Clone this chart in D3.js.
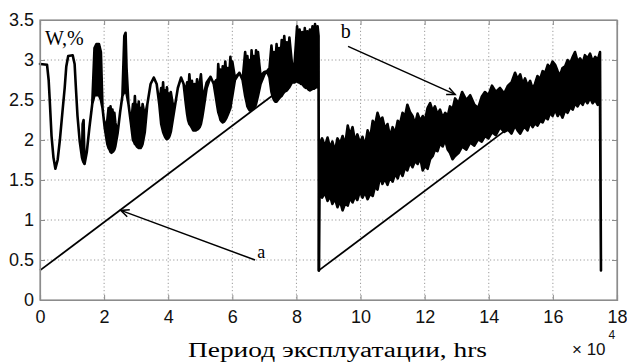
<!DOCTYPE html>
<html>
<head>
<meta charset="utf-8">
<script src="https://cdn.jsdelivr.net/npm/d3@7"></script>
<style>
  body { margin: 0; background: #fff; }
  svg { display: block; }
</style>
</head>
<body>
<div id="chart"></div>
<script>
// hours in units of 10^4, W in %
const xTicks = [0, 2, 4, 6, 8, 10, 12, 14, 16, 18];
const yTicks = [0, 0.5, 1, 1.5, 2, 2.5, 3, 3.5];

// first service period: [hrs, W lower edge, W upper edge]
const cycle1 = [
  [0.00, 2.95, 2.95], [0.22, 2.94, 2.94], [0.27, 2.75, 2.75], [0.31, 2.45, 2.45],
  [0.36, 2.05, 2.05], [0.42, 1.78, 1.78], [0.48, 1.64, 1.64], [0.55, 1.75, 1.75],
  [0.62, 2.00, 2.00], [0.70, 2.35, 2.35], [0.77, 2.65, 2.65], [0.82, 2.92, 2.92],
  [0.88, 3.05, 3.05], [1.02, 3.06, 3.06], [1.08, 2.95, 2.95], [1.12, 2.65, 2.65],
  [1.17, 2.30, 2.30], [1.24, 1.98, 1.98], [1.31, 1.78, 1.78], [1.33, 1.75, 2.20],
  [1.36, 1.72, 2.25], [1.39, 1.70, 1.70], [1.46, 1.85, 1.85], [1.54, 2.15, 2.15],
  [1.63, 2.45, 2.45], [1.70, 2.56, 3.15], [1.76, 2.56, 3.20], [1.84, 2.56, 3.20],
  [1.90, 2.50, 3.10], [1.95, 2.40, 2.40], [2.02, 2.15, 2.15], [2.10, 1.95, 2.25],
  [2.14, 1.90, 2.40], [2.17, 1.88, 2.28], [2.20, 1.85, 2.42], [2.23, 1.84, 2.30],
  [2.26, 1.85, 2.38], [2.29, 1.86, 2.26], [2.32, 1.88, 2.34], [2.35, 1.92, 2.22],
  [2.42, 2.08, 2.08], [2.50, 2.35, 2.35], [2.57, 2.55, 2.55], [2.63, 2.60, 3.30],
  [2.67, 2.60, 3.34], [2.70, 2.58, 2.90], [2.76, 2.45, 2.45], [2.84, 2.20, 2.20],
  [2.90, 2.00, 2.45], [2.93, 1.98, 2.30], [2.96, 1.95, 2.55], [2.99, 1.94, 2.32],
  [3.02, 1.92, 2.44], [3.05, 1.91, 2.28], [3.08, 1.90, 2.48], [3.11, 1.90, 2.30],
  [3.14, 1.90, 2.40], [3.17, 1.92, 2.26], [3.20, 1.95, 2.45], [3.27, 2.10, 2.30],
  [3.35, 2.45, 2.45], [3.45, 2.70, 2.70], [3.55, 2.78, 2.78], [3.64, 2.70, 2.70],
  [3.72, 2.45, 2.45], [3.78, 2.20, 2.65], [3.81, 2.15, 2.48], [3.84, 2.10, 2.72],
  [3.87, 2.07, 2.50], [3.90, 2.04, 2.62], [3.93, 2.02, 2.45], [3.96, 2.01, 2.66],
  [3.99, 2.02, 2.44], [4.02, 2.03, 2.58], [4.05, 2.06, 2.42], [4.08, 2.10, 2.60],
  [4.14, 2.25, 2.45], [4.22, 2.45, 2.45], [4.30, 2.65, 2.65], [4.40, 2.78, 2.78],
  [4.48, 2.70, 2.70], [4.55, 2.45, 2.60], [4.59, 2.32, 2.72], [4.62, 2.25, 2.56],
  [4.66, 2.20, 2.82], [4.70, 2.18, 2.60], [4.74, 2.15, 2.74], [4.78, 2.12, 2.55],
  [4.82, 2.12, 2.70], [4.86, 2.12, 2.58], [4.90, 2.13, 2.76], [4.94, 2.14, 2.60],
  [4.98, 2.16, 2.70], [5.02, 2.20, 2.82], [5.06, 2.28, 2.60], [5.10, 2.38, 2.55],
  [5.20, 2.65, 2.72], [5.32, 2.79, 2.79], [5.42, 2.70, 2.70], [5.50, 2.50, 2.75],
  [5.53, 2.42, 2.62], [5.56, 2.35, 2.95], [5.60, 2.30, 2.74], [5.63, 2.25, 2.88],
  [5.67, 2.23, 2.70], [5.70, 2.22, 2.92], [5.74, 2.23, 2.76], [5.78, 2.25, 2.98],
  [5.82, 2.28, 2.78], [5.86, 2.32, 2.90], [5.90, 2.36, 2.80], [5.94, 2.40, 3.04],
  [5.97, 2.48, 2.86], [6.00, 2.55, 2.98], [6.08, 2.75, 2.78], [6.22, 2.84, 2.84],
  [6.32, 2.75, 2.75], [6.40, 2.55, 3.10], [6.44, 2.48, 2.92], [6.47, 2.42, 3.05],
  [6.51, 2.39, 2.85], [6.54, 2.37, 3.00], [6.57, 2.37, 2.84], [6.60, 2.38, 3.12],
  [6.64, 2.39, 2.90], [6.67, 2.40, 3.05], [6.71, 2.42, 2.88], [6.74, 2.45, 3.12],
  [6.77, 2.50, 2.94], [6.80, 2.55, 3.10], [6.88, 2.70, 2.80], [7.00, 2.82, 2.85],
  [7.08, 2.86, 2.86], [7.16, 2.78, 2.90], [7.22, 2.60, 3.18], [7.26, 2.54, 2.98],
  [7.30, 2.50, 3.10], [7.34, 2.48, 2.94], [7.38, 2.48, 3.20], [7.42, 2.50, 3.00],
  [7.46, 2.52, 3.15], [7.50, 2.54, 2.98], [7.54, 2.55, 3.25], [7.58, 2.58, 3.06],
  [7.62, 2.60, 3.30], [7.66, 2.61, 3.08], [7.70, 2.62, 3.22], [7.74, 2.64, 3.04],
  [7.78, 2.66, 3.28], [7.86, 2.72, 2.95], [7.94, 2.72, 2.95], [8.02, 2.74, 3.42],
  [8.06, 2.72, 3.20], [8.10, 2.72, 3.38], [8.14, 2.70, 3.18], [8.18, 2.70, 3.35],
  [8.22, 2.68, 3.16], [8.26, 2.66, 3.40], [8.30, 2.65, 3.22], [8.34, 2.65, 3.36],
  [8.38, 2.63, 3.20], [8.42, 2.62, 3.38], [8.46, 2.63, 3.24], [8.50, 2.64, 3.42],
  [8.54, 2.64, 3.26], [8.58, 2.65, 3.45], [8.62, 2.66, 3.28], [8.66, 2.66, 3.42],
  [8.69, 2.66, 3.30], [8.70, 0.37, 0.37]
];

// second service period
const cycle2 = [
  [8.70, 0.37, 0.37], [8.72, 1.34, 1.95], [8.80, 1.28, 2.02], [8.89, 1.34, 1.92],
  [8.97, 1.24, 2.03], [9.05, 1.30, 1.90], [9.12, 1.20, 1.98], [9.20, 1.27, 1.86],
  [9.28, 1.16, 2.02], [9.36, 1.24, 1.95], [9.44, 1.12, 2.05], [9.52, 1.21, 1.94],
  [9.60, 1.18, 2.18], [9.67, 1.28, 2.06], [9.75, 1.22, 2.16], [9.83, 1.30, 1.98],
  [9.90, 1.25, 2.07], [9.98, 1.36, 1.96], [10.06, 1.28, 2.04], [10.14, 1.35, 1.92],
  [10.22, 1.26, 2.12], [10.30, 1.33, 2.02], [10.38, 1.30, 2.24], [10.45, 1.42, 2.18],
  [10.53, 1.38, 2.34], [10.61, 1.55, 2.24], [10.68, 1.45, 2.28], [10.76, 1.52, 2.14],
  [10.84, 1.44, 2.20], [10.92, 1.54, 2.04], [11.00, 1.48, 2.16], [11.08, 1.58, 2.08],
  [11.16, 1.52, 2.24], [11.23, 1.62, 2.20], [11.31, 1.55, 2.34], [11.39, 1.66, 2.30],
  [11.46, 1.62, 2.44], [11.54, 1.72, 2.35], [11.62, 1.66, 2.30], [11.70, 1.74, 2.20],
  [11.78, 1.70, 2.33], [11.86, 1.78, 2.24], [11.94, 1.62, 2.30], [12.01, 1.68, 2.24],
  [12.09, 1.64, 2.40], [12.17, 1.76, 2.46], [12.25, 1.80, 2.36], [12.32, 1.88, 2.42],
  [12.40, 1.86, 2.32], [12.48, 1.96, 2.38], [12.56, 1.92, 2.28], [12.64, 2.00, 2.34],
  [12.72, 1.88, 2.30], [12.79, 1.84, 2.42], [12.87, 1.76, 2.38], [12.95, 1.80, 2.52],
  [13.06, 1.84, 2.46], [13.17, 1.92, 2.60], [13.30, 1.88, 2.50], [13.42, 1.97, 2.56],
  [13.55, 1.93, 2.44], [13.67, 2.01, 2.40], [13.78, 1.98, 2.54], [13.88, 2.05, 2.60],
  [13.99, 2.02, 2.56], [14.10, 2.10, 2.68], [14.22, 2.06, 2.60], [14.35, 2.16, 2.65],
  [14.48, 2.10, 2.58], [14.60, 2.13, 2.68], [14.71, 2.08, 2.72], [14.82, 2.18, 2.84],
  [14.90, 2.12, 2.76], [14.98, 2.08, 2.82], [15.06, 2.14, 2.70], [15.13, 2.16, 2.77],
  [15.21, 2.12, 2.68], [15.29, 2.22, 2.74], [15.37, 2.16, 2.64], [15.44, 2.21, 2.70],
  [15.52, 2.18, 2.80], [15.60, 2.24, 2.76], [15.68, 2.22, 2.86], [15.76, 2.29, 2.84],
  [15.84, 2.26, 2.94], [15.91, 2.34, 2.90], [15.99, 2.30, 2.98], [16.07, 2.38, 2.94],
  [16.15, 2.30, 2.86], [16.22, 2.35, 2.80], [16.30, 2.28, 2.90], [16.38, 2.37, 2.92],
  [16.46, 2.34, 3.00], [16.54, 2.41, 2.96], [16.62, 2.38, 3.04], [16.69, 2.46, 3.10],
  [16.77, 2.42, 2.98], [16.85, 2.48, 3.02], [16.93, 2.44, 2.96], [17.00, 2.51, 3.06],
  [17.08, 2.46, 3.02], [17.16, 2.53, 3.08], [17.24, 2.46, 2.98], [17.32, 2.50, 3.04],
  [17.40, 2.44, 3.00], [17.47, 2.47, 3.10], [17.50, 0.37, 0.37]
];

const trendA = [[0, 0.37], [7.4, 2.6]];
const trendB = [[8.7, 0.37], [14.55, 2.13]];

const arrows = [
  { label: 'a', from: [6.71, 0.50], to: [2.52, 1.12], text: [6.78, 0.53] },
  { label: 'b', from: [9.61, 3.17], to: [12.95, 2.57], text: [9.38, 3.275] }
];

const W = 627, H = 362;
const margin = { top: 20, right: 10, bottom: 62, left: 40 };
const plotW = W - margin.left - margin.right;
const plotH = H - margin.top - margin.bottom;

const svg = d3.select('#chart').append('svg')
  .attr('width', W)
  .attr('height', H);

const g = svg.append('g')
  .attr('transform', `translate(${margin.left},${margin.top})`);

const x = d3.scaleLinear().domain([0, 18]).range([0, plotW]);
const y = d3.scaleLinear().domain([0, 3.5]).range([plotH, 0]);

// dotted grid
g.append('g')
  .selectAll('line')
  .data(xTicks.slice(1, -1))
  .enter().append('line')
  .attr('x1', d => x(d)).attr('x2', d => x(d))
  .attr('y1', 0).attr('y2', plotH)
  .attr('stroke', '#9a9a9a')
  .attr('stroke-dasharray', '1.2,2.4');

g.append('g')
  .selectAll('line')
  .data(yTicks.slice(1, -1))
  .enter().append('line')
  .attr('x1', 0).attr('x2', plotW)
  .attr('y1', d => y(d)).attr('y2', d => y(d))
  .attr('stroke', '#9a9a9a')
  .attr('stroke-dasharray', '1.2,2.4');

// series
const band = d3.area()
  .x(d => x(d[0]))
  .y0(d => y(d[1]))
  .y1(d => y(d[2]));

[cycle1, cycle2].forEach(s => {
  g.append('path')
    .datum(s)
    .attr('d', band)
    .attr('fill', '#000')
    .attr('stroke', '#000')
    .attr('stroke-width', 2.6)
    .attr('stroke-linejoin', 'round');
});

const line = d3.line().x(d => x(d[0])).y(d => y(d[1]));
[trendA, trendB].forEach(t => {
  g.append('path')
    .datum(t)
    .attr('d', line)
    .attr('fill', 'none')
    .attr('stroke', '#000')
    .attr('stroke-width', 1.8);
});

// annotation arrows
arrows.forEach(a => {
  const x0 = x(a.from[0]), y0 = y(a.from[1]);
  const x1 = x(a.to[0]), y1 = y(a.to[1]);
  const ang = Math.atan2(y1 - y0, x1 - x0);
  const len = 9, spread = 0.42;
  g.append('line')
    .attr('x1', x0).attr('y1', y0).attr('x2', x1).attr('y2', y1)
    .attr('stroke', '#000').attr('stroke-width', 1.5);
  g.append('path')
    .attr('d', `M${x1 - len * Math.cos(ang - spread)},${y1 - len * Math.sin(ang - spread)}`
      + `L${x1},${y1}`
      + `L${x1 - len * Math.cos(ang + spread)},${y1 - len * Math.sin(ang + spread)}`)
    .attr('fill', 'none')
    .attr('stroke', '#000')
    .attr('stroke-width', 1.5);
  g.append('text')
    .attr('x', x(a.text[0]))
    .attr('y', y(a.text[1]))
    .attr('font-family', '"Liberation Serif", "Times New Roman", serif')
    .attr('font-size', a.label === 'a' ? 18 : 20)
    .text(a.label);
});

// frame
g.append('rect')
  .attr('width', plotW).attr('height', plotH)
  .attr('fill', 'none')
  .attr('stroke', '#8c8c8c')
  .attr('stroke-width', 1.2);

// axes with inward ticks
g.append('g')
  .attr('transform', `translate(0,${plotH})`)
  .call(d3.axisBottom(x).tickValues(xTicks).tickSize(-5).tickPadding(10).tickFormat(d3.format('d')));
g.append('g')
  .call(d3.axisLeft(y).tickValues(yTicks).tickSize(-5).tickPadding(6).tickFormat(d => d));
g.append('g')
  .call(d3.axisTop(x).tickValues(xTicks).tickSize(-5).tickFormat(''));
g.append('g')
  .attr('transform', `translate(${plotW},0)`)
  .call(d3.axisRight(y).tickValues(yTicks).tickSize(-5).tickFormat(''));

g.selectAll('.domain').attr('stroke', '#8c8c8c').attr('stroke-width', 1.2);
g.selectAll('.tick line').attr('stroke', '#8c8c8c');
g.selectAll('.tick text')
  .attr('font-family', '"Liberation Sans", Arial, sans-serif')
  .attr('font-size', 18)
  .attr('fill', '#111');

// y label inside the plot
g.append('text')
  .attr('x', 5).attr('y', 25)
  .attr('font-family', '"Liberation Serif", "Times New Roman", serif')
  .attr('font-size', 20)
  .text('W,%');

// x label
svg.append('text')
  .attr('x', 188).attr('y', 357)
  .attr('font-family', '"Liberation Serif", "Times New Roman", serif')
  .attr('font-size', 20)
  .attr('textLength', 299)
  .attr('lengthAdjust', 'spacingAndGlyphs')
  .text('Период эксплуатации, hrs');

// exponent
const expo = svg.append('text')
  .attr('x', 572).attr('y', 355)
  .attr('font-family', '"Liberation Sans", Arial, sans-serif')
  .attr('font-size', 17)
  .attr('fill', '#111');
expo.append('tspan').text('\u00d7 10');
expo.append('tspan').attr('dx', 3).attr('dy', -16).attr('font-size', 12).text('4');
</script>
</body>
</html>
